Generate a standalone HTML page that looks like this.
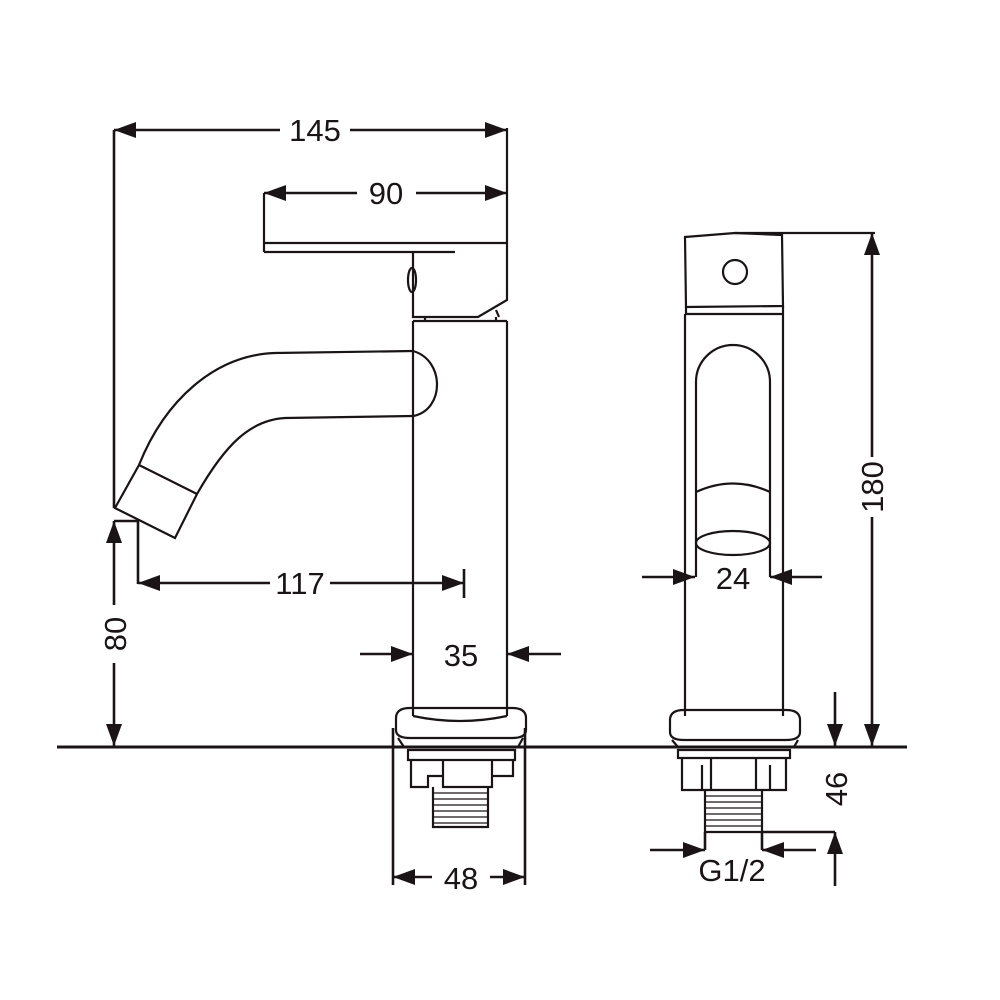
<!DOCTYPE html>
<html><head><meta charset="utf-8"><style>
html,body{margin:0;padding:0;background:#fff}
svg{display:block}
text{font-family:"Liberation Sans",Arial,sans-serif;font-size:31px;fill:#1a1416}
</style></head><body>
<svg width="1000" height="1000" viewBox="0 0 1000 1000" xmlns="http://www.w3.org/2000/svg">
<defs>
<marker id="a" viewBox="0 0 22 16" refX="22" refY="8" markerWidth="22" markerHeight="16" markerUnits="userSpaceOnUse" orient="auto">
<path d="M0,0 L22,8 L0,16 Z" fill="#1a1416"/></marker>
</defs>
<g stroke="#1a1416" fill="none" stroke-width="2.2">
<line x1="57" y1="747" x2="907" y2="747" stroke-width="3"/>

<path d="M264,243 L507,243 M264,252 L455,252 M264,193 L264,252"/>
<path d="M507,128 L507,300 L478,317 L413,317 L413,252"/>
<ellipse cx="412" cy="280" rx="4" ry="12"/>
<path d="M425,317 L425,321 M496,317 L496,321 M496,310 L499,317"/>
<path d="M413,321 L507,321 M413,321 L413,716 M507,321 L507,716"/>
<path d="M413,351 L275,353 C215,355 165,400 139,465 L115,508 L175,538 L197,494 C225,445 250,420 285,418 L413,416"/>
<path d="M139,465 L197,494"/>
<path d="M413,351 C445,360 445,410 413,416"/>
<path d="M396,718 Q396,708 410,708 L512,708 Q526,708 526,718 L526,730 Q526,738 512,738 L410,738 Q396,738 396,730 Z"/>
<path d="M413,716 Q460,726 507,716"/>
<path d="M398,738 L404,747 L518,747 L523,738"/>
<path d="M408,750 L515,750 L515,760 L408,760 Z"/>
<path d="M411,760 L411,787 L428,787 L428,776 L443,776 L443,787 L492,787 L492,760 M443,760 L443,776 M492,776 L513,776 L513,760"/>
<path d="M433,787 L433,827 L488,827 L488,787"/>
<path d="M433,793 H488 M433,799 H488 M433,805 H488 M433,811 H488 M433,817 H488 M433,823 H488" stroke-width="1.3"/>

<path d="M685,237 L735,233 L782,235 L783,306 L686,307 Z"/>
<line x1="735" y1="233" x2="875" y2="233"/>
<circle cx="735" cy="272" r="12"/>
<path d="M686,307 L686,314 M783,306 L783,314 M686,314 L783,314"/>
<path d="M685,314 L685,716 M783,314 L783,716"/>
<path d="M696,577 L696,382 A37,37 0 0 1 770,382 L770,577"/>
<path d="M696,492 Q733,475 770,492"/>
<ellipse cx="733" cy="543" rx="37" ry="12"/>
<path d="M670,720 Q670,710 684,710 L786,710 Q800,710 800,720 L800,732 Q800,740 786,740 L684,740 Q670,740 670,732 Z"/>
<path d="M672,740 L678,747 L794,747 L798,740"/>
<path d="M678,750 L790,750 L790,758 L678,758 Z"/>
<path d="M682,758 L682,790 L702,790 L702,765 M702,790 L770,790 L770,765 M770,790 L786,790 L786,758 M711,758 L711,790 M756,758 L756,790"/>
<path d="M705,790 L705,832 L762,832 L762,790"/>
<path d="M705,796 H762 M705,802 H762 M705,808 H762 M705,814 H762 M705,820 H762 M705,826 H762" stroke-width="1.3"/>

<g stroke-width="2.6">
<line x1="114" y1="130" x2="114" y2="508"/>
<line x1="280" y1="130" x2="114" y2="130" marker-end="url(#a)"/>
<line x1="350" y1="130" x2="507" y2="130" marker-end="url(#a)"/>
<line x1="357" y1="193" x2="264" y2="193" marker-end="url(#a)"/>
<line x1="416" y1="193" x2="507" y2="193" marker-end="url(#a)"/>
<line x1="114" y1="605" x2="114" y2="521" marker-end="url(#a)"/>
<line x1="114" y1="663" x2="114" y2="746" marker-end="url(#a)"/>
<path d="M114,521 L138,521 L138,584"/>
<line x1="270" y1="583" x2="138" y2="583" marker-end="url(#a)"/>
<line x1="330" y1="583" x2="464" y2="583" marker-end="url(#a)"/>
<line x1="464" y1="569" x2="464" y2="598"/>
<line x1="360" y1="654" x2="413" y2="654" marker-end="url(#a)"/>
<line x1="561" y1="654" x2="507" y2="654" marker-end="url(#a)"/>
<line x1="393" y1="728" x2="393" y2="885"/>
<line x1="525" y1="728" x2="525" y2="885"/>
<line x1="432" y1="877" x2="393" y2="877" marker-end="url(#a)"/>
<line x1="490" y1="877" x2="525" y2="877" marker-end="url(#a)"/>
<line x1="642" y1="577" x2="695" y2="577" marker-end="url(#a)"/>
<line x1="822" y1="577" x2="770" y2="577" marker-end="url(#a)"/>
<line x1="872" y1="457" x2="872" y2="233" marker-end="url(#a)"/>
<line x1="872" y1="517" x2="872" y2="746" marker-end="url(#a)"/>
<line x1="835" y1="692" x2="835" y2="746" marker-end="url(#a)"/>
<line x1="835" y1="886" x2="835" y2="832" marker-end="url(#a)"/>
<path d="M762,832 L835,832"/>
<line x1="705" y1="832" x2="705" y2="850"/>
<line x1="762" y1="832" x2="762" y2="850"/>
<line x1="650" y1="850" x2="705" y2="850" marker-end="url(#a)"/>
<line x1="816" y1="850" x2="762" y2="850" marker-end="url(#a)"/>
</g>
</g>
<g text-anchor="middle">
<text x="315" y="141">145</text>
<text x="386" y="204">90</text>
<text x="300" y="594">117</text>
<text x="461" y="666">35</text>
<text x="461" y="889">48</text>
<text x="733" y="589">24</text>
<text x="732" y="881">G1/2</text>
<text transform="translate(126,634) rotate(-90)">80</text>
<text transform="translate(883,487) rotate(-90)">180</text>
<text transform="translate(847,789) rotate(-90)">46</text>
</g>
</svg>
</body></html>
